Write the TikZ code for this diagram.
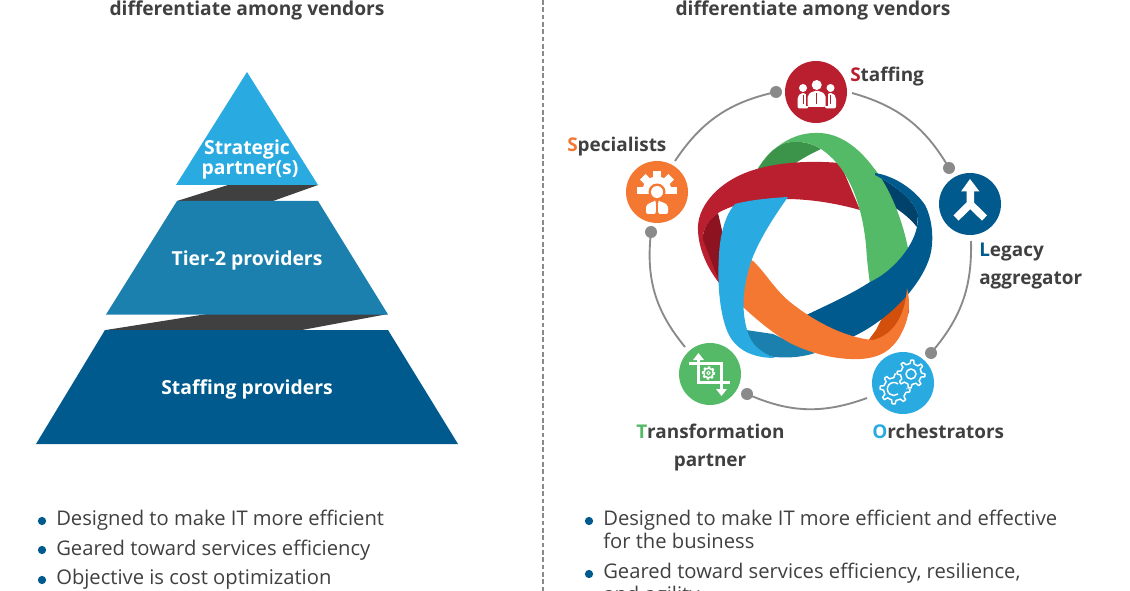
\documentclass[tikz,border=0pt]{standalone}
\usepackage{fontspec}
\setmainfont{Open Sans}
\definecolor{txt}{HTML}{404040}
\definecolor{cyanb}{HTML}{29ABE2}
\definecolor{tier}{HTML}{1B80AD}
\definecolor{navy}{HTML}{005A8D}
\definecolor{rred}{HTML}{BA1F2F}
\definecolor{ggreen}{HTML}{54BA67}
\definecolor{oorange}{HTML}{F47732}
\definecolor{dgreen}{HTML}{3B9449}
\definecolor{dred}{HTML}{8E1320}
\definecolor{dnavy}{HTML}{004269}
\definecolor{dorange}{HTML}{D2500C}
\definecolor{ringgrey}{HTML}{8A8A8A}
\tikzset{
  head/.style={inner sep=0pt,font=\bfseries\fontsize{14.4pt}{16pt}\selectfont,text=txt,anchor=base},
  pyr/.style={inner sep=0pt,font=\bfseries\fontsize{14.5pt}{14pt}\selectfont,text=white,anchor=base},
  lab/.style={inner sep=0pt,font=\bfseries\fontsize{14.2pt}{16pt}\selectfont,text=txt,anchor=base west},
  labc/.style={lab,anchor=base},
  bul/.style={inner sep=0pt,font=\fontsize{15.15pt}{17pt}\selectfont,text=txt,anchor=base west},
  bdot/.style={circle,fill=navy,inner sep=0pt,minimum size=6.2pt},
  ring/.style={draw=ringgrey,line width=1.4pt},
  rdot/.style={circle,fill=ringgrey,inner sep=0pt,minimum size=9pt},
  badge/.style={circle,inner sep=0pt,minimum size=46.5pt},
  ic/.style={draw=white,line width=1.1pt,fill=none},
}
% cx cy r-out r-in teeth
\newcommand{\gearoutline}[5]{%
  \draw[ic,line join=round] ({#1+#3},{#2})
  \foreach \k in {1,...,#5}{
    -- ({#1+#3*cos((\k-1)*360/#5+90/#5)},{#2+#3*sin((\k-1)*360/#5+90/#5)})
    -- ({#1+#4*cos((\k-1)*360/#5+135/#5)},{#2+#4*sin((\k-1)*360/#5+135/#5)})
    -- ({#1+#4*cos((\k-1)*360/#5+315/#5)},{#2+#4*sin((\k-1)*360/#5+315/#5)})
    -- ({#1+#3*cos((\k-1)*360/#5+360/#5)},{#2+#3*sin((\k-1)*360/#5+360/#5)})
  } -- cycle;}
\newcommand{\personicon}[4]{% cx head-y head-r half-width
  \fill[white] (#1,#2) circle (#3);
  \fill[white,rounded corners=1.5pt] ({#1-#4},{#2+#3+14.5+#3*0.5}) -- ({#1-#4},{#2+#3+5}) -- ({#1-#4*0.4},{#2+#3+1}) -- ({#1+#4*0.4},{#2+#3+1}) -- ({#1+#4},{#2+#3+5}) -- ({#1+#4},{#2+#3+14.5+#3*0.5}) -- cycle;}
\begin{document}
\begin{tikzpicture}[x=0.75pt,y=-0.75pt]
\useasboundingbox (0,0) rectangle (1130,591);
\clip (0,0) rectangle (1130,591);
% headings
\node[head] (hl) at (247,16) {differentiate among vendors};
\node[head] (hr) at (813,16) {differentiate among vendors};
% divider
\coordinate (dtop) at (543,0);
\coordinate (dbot) at (543,591);
\draw[ringgrey,line width=1pt,dash pattern=on 3.5pt off 2pt] (dtop) -- (dbot);
% pyramid
\fill[txt] (177,201) -- (228,185) -- (318,185) -- (273,201) -- cycle;
\fill[txt] (106,330) -- (207,314) -- (388,314) -- (302,330) -- cycle;
\fill[cyanb] (247,72) -- (318,185) -- (176,185) -- cycle;
\fill[tier] (177,201) -- (318,201) -- (388,314.5) -- (106,314.5) -- cycle;
\fill[navy] (105,330) -- (388,330) -- (458,444) -- (36,444) -- cycle;
\node[pyr] (p1a) at (247,155) {Strategic};
\node[pyr] (p1b) at (250,175) {partner(s)};
\node[pyr] (p2) at (247,266) {Tier-2 providers};
\node[pyr] (p3) at (247,394) {Staffing providers};
% left bullets
\node[bdot] (a1) at (42,521) {}; \node[bul] (at1) at (56,525) {Designed to make IT more efficient};
\node[bdot] (a2) at (42,550) {}; \node[bul] (at2) at (56,555) {Geared toward services efficiency};
\node[bdot] (a3) at (42,580) {}; \node[bul] (at3) at (56,584) {Objective is cost optimization};
% right bullets
\node[bdot] (b1) at (589,521) {}; \node[bul] (bt1) at (603,525) {Designed to make IT more efficient and effective};
\node[bul] (bt1b) at (603,548) {for the business};
\node[bdot] (b2) at (589,574) {}; \node[bul] (bt2) at (603,578) {Geared toward services efficiency, resilience,};
\node[bul] (bt2b) at (603,601) {and agility};
% ribbon undersides
\fill[dgreen] (757,170) .. controls (768,152) and (780,142) .. (792,142) .. controls (803,141) and (813,144) .. (821,149) .. controls (810,154) and (798,161) .. (788,168) -- (757,175) -- cycle;
\fill[dred] (718,213) .. controls (705,222) and (702,232) .. (703,243) .. controls (705,258) and (711,272) .. (720,284) -- (735,260) -- (724,243) .. controls (723,233) and (720,222) .. (718,213) -- cycle;
\fill[dnavy] (875,175) .. controls (892,184) and (912,197) .. (918,214) -- (917,227) .. controls (908,216) and (897,208) .. (885,202) -- (870,195) -- cycle;
\fill[dorange] (907,288) -- (909,312) .. controls (904,325) and (895,336) .. (880,342) -- (865,345) -- (876,330) -- (882,318) -- cycle;
\fill[tier] (746,330) -- (773,334) -- (815,353) .. controls (800,358) and (780,359) .. (762,355) .. controls (755,350) and (750,340) .. (746,330) -- cycle;
% red
\fill[rred] (840,163) .. controls (805,160) and (770,163) .. (745,173)
  .. controls (720,183) and (700,203) .. (698,225)
  .. controls (697,245) and (706,267) .. (720,284)
  -- (703,240) .. controls (702,232) and (706,222) .. (718,213)
  .. controls (745,197) and (800,193) .. (860,210) -- cycle;
% green over red
\fill[ggreen] (757,170) .. controls (768,152) and (780,142) .. (792,142)
  .. controls (803,141) and (813,144) .. (821,149)
  .. controls (845,165) and (861,196) .. (866,245)
  .. controls (867,260) and (868,270) .. (870,284) -- (910,262)
  .. controls (908,240) and (896,195) .. (873,167)
  .. controls (855,143) and (835,132) .. (815,133)
  .. controls (792,133) and (770,148) .. (757,170) -- cycle;
% navy
\fill[navy] (875,173) .. controls (895,176) and (915,190) .. (925,205)
  .. controls (933,220) and (935,245) .. (928,262)
  .. controls (915,295) and (880,325) .. (850,338)
  -- (800,318) .. controls (825,306) and (850,295) .. (870,282)
  .. controls (890,273) and (912,250) .. (917,227)
  .. controls (918,220) and (918,216) .. (918,214)
  .. controls (912,197) and (892,184) .. (875,175) -- cycle;
% orange
\fill[oorange] (745,258) -- (753,261) .. controls (765,272) and (775,290) .. (790,302)
  .. controls (812,320) and (845,338) .. (873,340)
  .. controls (890,336) and (905,320) .. (907,288)
  .. controls (911,305) and (909,320) .. (900,336)
  .. controls (892,350) and (880,358) .. (860,359)
  .. controls (835,360) and (810,353) .. (790,343)
  .. controls (772,333) and (755,318) .. (743,307) -- (735,300) -- cycle;
% cyan
\fill[cyanb] (735,204) .. controls (725,215) and (720,235) .. (719,255)
  .. controls (717,285) and (720,315) .. (728,333)
  .. controls (735,348) and (750,358) .. (775,358)
  .. controls (760,352) and (752,345) .. (748,333)
  .. controls (742,315) and (742,295) .. (748,272)
  .. controls (753,250) and (770,222) .. (788,197)
  .. controls (770,198) and (750,200) .. (735,204) -- cycle;
% ring arcs
\node[rdot] (d1) at (776,92) {};
\node[rdot] (d2) at (949,168) {};
\node[rdot] (d3) at (931,353) {};
\node[rdot] (d4) at (747,394) {};
\node[rdot] (d5) at (651,232) {};
\coordinate (e1) at (675,161);
\coordinate (e2) at (852,93);
\coordinate (e3) at (971,241);
\coordinate (e4) at (867,398);
\coordinate (e5) at (685,347);
\draw[ring] (e1) to[bend left=22] (d1.center);
\draw[ring] (e2) to[bend left=22] (d2.center);
\draw[ring] (e3) to[bend left=21] (d3.center);
\draw[ring] (e4) to[bend left=22] (d4.center);
\draw[ring] (e5) to[bend left=23] (d5.center);
% badges
\node[badge,fill=rred] (staff) at (816,92) {};
\node[badge,fill=oorange] (spec) at (657,192) {};
\node[badge,fill=navy] (leg) at (970,204) {};
\node[badge,fill=cyanb] (orch) at (903,383) {};
\node[badge,fill=ggreen] (trans) at (710,374) {};
% staffing icon
\personicon{803}{88}{4}{5.5}
\personicon{830.5}{88}{4}{5.5}
\fill[rred] (816.7,85) circle (6.2);
\fill[rred] (806,90.5) rectangle (828,106);
\personicon{816.7}{85}{5}{9}
\draw[rred,line width=.7pt] (816.7,93) -- (816.7,104);
\draw[rred,line width=.6pt] (803,95) -- (803,104);
\draw[rred,line width=.6pt] (830.5,95) -- (830.5,104);
% specialist icon
\begin{scope}
\clip (630,165) rectangle (690,194);
\fill[white] (657,191) circle (14.5);
\foreach \a in {0,45,90}{
  \fill[white,rotate around={\a:(657,191)}] (653,191) rectangle (661,171);
  \fill[white,rotate around={-\a:(657,191)}] (653,191) rectangle (661,171);
}
\end{scope}
\fill[oorange] (657,192) circle (8.5);
\fill[white] (657,192) circle (6);
\fill[oorange] (645,198) rectangle (669,201);
\fill[white,rounded corners=1.5pt] (646,214) -- (646,205) -- (654,201) -- (655.8,201) -- (655.8,214) -- cycle;
\fill[white,rounded corners=1.5pt] (668,214) -- (668,205) -- (660,201) -- (658.2,201) -- (658.2,214) -- cycle;
% legacy icon
\fill[white] (970,179) -- (979.5,191.5) -- (974,191.5) -- (974,205) -- (966.5,205) -- (966.5,191.5) -- (961,191.5) -- cycle;
\draw[white,line width=5.5pt,miter limit=10] (956,218) -- (970.2,204) -- (984.5,218);
% orchestrators icon
\gearoutline{895}{389}{15}{11.5}{8}
\fill[cyanb] (911,374) circle (15);
\gearoutline{911}{374}{14}{10.5}{8}
\draw[ic] (911,374) circle (5);
\draw[ic] (898,384) arc (-50:-310:6.5);
% transformation icon
\draw[white,line width=2.4pt] (689,363.5) -- (721.5,363.5) -- (721.5,391);
\draw[white,line width=2.4pt] (730,382.5) -- (698.5,382.5) -- (698.5,358);
\fill[white] (698.5,353) -- (704,360) -- (693,360) -- cycle;
\fill[white] (721.5,396) -- (727,389) -- (716,389) -- cycle;
\gearoutline{708.5}{373}{6}{4.5}{8}
\draw[white,line width=.7pt] (708.5,373) circle (1.8);
% labels
\node[lab] (ls) at (850,82) {\textcolor{rred}{S}taffing};
\node[lab] (lsp) at (567,152) {\textcolor{oorange}{S}pecialists};
\node[lab] (ll) at (979,257) {\textcolor{navy}{L}egacy};
\node[lab] (ll2) at (979,285) {aggregator};
\node[lab] (lo) at (872,438) {\textcolor{cyanb}{O}rchestrators};
\node[lab] (lt) at (636,438) {\textcolor{ggreen}{T}ransformation};
\node[labc] (lt2) at (710,466) {partner};
\end{tikzpicture}
\end{document}
